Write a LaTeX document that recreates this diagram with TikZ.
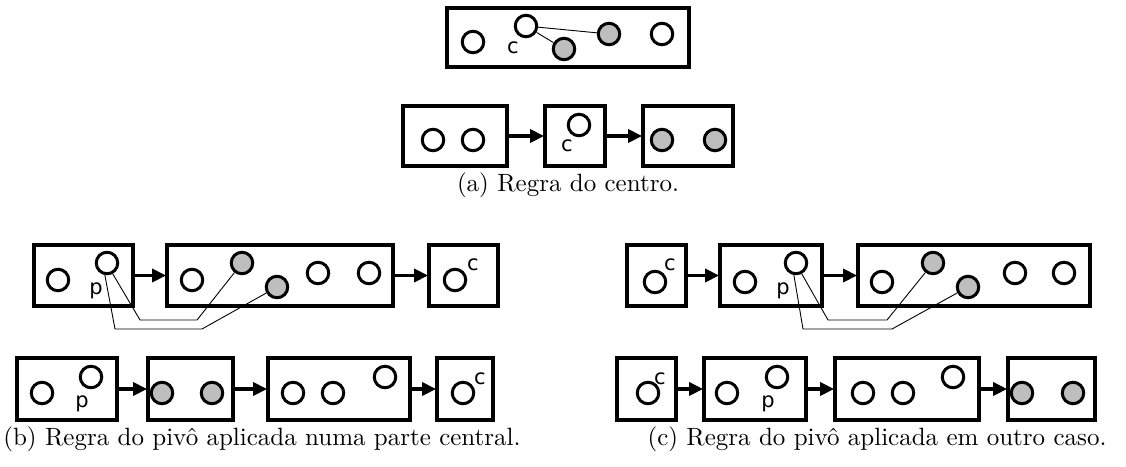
\documentclass[tikz,border=0pt]{standalone}
\usepackage{fontspec}
\newfontfamily\labfont{DejaVu Sans}
\usetikzlibrary{arrows.meta}
\definecolor{shade}{HTML}{BEBEBE}
\tikzset{
  box/.style={draw, rectangle, line width=3.8pt, inner sep=0pt},
  opn/.style={draw, circle, line width=3pt, minimum size=21.5pt, inner sep=0pt},
  gry/.style={opn, fill=shade},
  lnk/.style={line width=0.9pt},
  flow/.style={line width=3.5pt, -{Triangle[length=14pt,width=13pt]}, shorten >=-1pt},
  lab/.style={inner sep=0pt, font=\labfont\fontsize{21}{22}\selectfont},
  captext/.style={inner sep=0pt},
}
\begin{document}
\begin{tikzpicture}[x=1pt, y=-1pt]
\useasboundingbox (0,0) rectangle (1126,466);

% ---------- (a) centre rule ----------
\node[box, minimum width=242pt, minimum height=59pt] (A0) at (568,37.5) {};
\node[opn] (A0o1) at (473,42) {};
\node[opn] (A0c)  at (526,26) {};
\node[gry] (A0g1) at (564,49) {};
\node[gry] (A0g2) at (609,34) {};
\node[opn] (A0o2) at (662,34) {};
\node[lab] (A0l) at (513,48) {c};
\draw[lnk] (A0c) -- (A0g2);
\draw[lnk] (A0c) -- (A0g1);

\node[box, minimum width=104pt, minimum height=60pt] (A1) at (455,136) {};
\node[box, minimum width=60pt,  minimum height=60pt] (A2) at (575,136) {};
\node[box, minimum width=90pt,  minimum height=60pt] (A3) at (688,136) {};
\node[opn] (A1o1) at (433,140) {};
\node[opn] (A1o2) at (473,140) {};
\node[opn] (A2c)  at (579,125) {};
\node[lab] (A2l) at (567,146) {c};
\node[gry] (A3g1) at (662,140) {};
\node[gry] (A3g2) at (715,140) {};
\draw[flow] (A1) -- (A2);
\draw[flow] (A2) -- (A3);
\node[captext] (capA) at (568,185) {\scalebox{2.5}{(a) Regra do centro.}};

% ---------- (b) pivot rule, central part ----------
\node[box, minimum width=99pt,  minimum height=61pt] (B1) at (83.5,275.5) {};
\node[box, minimum width=226pt, minimum height=61pt] (B2) at (280,275.5) {};
\node[box, minimum width=69pt,  minimum height=61pt] (B3) at (463.5,275.5) {};
\node[opn] (B1o) at (58,280) {};
\node[opn] (B1p) at (107,263) {};
\node[lab] (B1l) at (96,291) {p};
\node[opn] (B2o1) at (192,280) {};
\node[gry] (B2g1) at (242,263) {};
\node[gry] (B2g2) at (277,287) {};
\node[opn] (B2o2) at (318,273) {};
\node[opn] (B2o3) at (369,273) {};
\node[opn] (B3c) at (455,280) {};
\node[lab] (B3l) at (473,265) {c};
\draw[flow] (B1) -- (B2);
\draw[flow] (B2) -- (B3);
\coordinate (Bk1) at (140,320);
\coordinate (Bk2) at (197,320);
\coordinate (Bk3) at (115,329);
\coordinate (Bk4) at (202,329);
\draw[lnk] (B1p.-62) -- (Bk1) -- (Bk2) -- (B2g1);
\draw[lnk] (B1p.-100) -- (Bk3) -- (Bk4) -- (B2g2);

\node[box, minimum width=100pt, minimum height=62pt] (D1) at (67,389) {};
\node[box, minimum width=85pt,  minimum height=62pt] (D2) at (190.5,389) {};
\node[box, minimum width=142pt, minimum height=62pt] (D3) at (339,389) {};
\node[box, minimum width=56pt,  minimum height=62pt] (D4) at (465,389) {};
\node[opn] (D1o) at (42,393) {};
\node[opn] (D1p) at (91,377) {};
\node[lab] (D1l) at (82,404) {p};
\node[gry] (D2g1) at (162,393) {};
\node[gry] (D2g2) at (212,393) {};
\node[opn] (D3o1) at (293,393) {};
\node[opn] (D3o2) at (333,393) {};
\node[opn] (D3o3) at (385,377) {};
\node[opn] (D4c) at (463,393) {};
\node[lab] (D4l) at (480,379) {c};
\draw[flow] (D1) -- (D2);
\draw[flow] (D2) -- (D3);
\draw[flow] (D3) -- (D4);
\node[captext] (capB) at (262,439) {\scalebox{2.5}{(b) Regra do pivô aplicada numa parte central.}};

% ---------- (c) pivot rule, other case ----------
\node[box, minimum width=59pt,  minimum height=61pt] (E1) at (656.5,275.5) {};
\node[box, minimum width=102pt, minimum height=61pt] (E2) at (771,275.5) {};
\node[box, minimum width=232pt, minimum height=61pt] (E3) at (974,275.5) {};
\node[opn] (E1c) at (655,282) {};
\node[lab] (E1l) at (670,265) {c};
\node[opn] (E2o) at (745,282) {};
\node[opn] (E2p) at (796,263) {};
\node[lab] (E2l) at (783,291) {p};
\node[opn] (E3o1) at (882,282) {};
\node[gry] (E3g1) at (933,263) {};
\node[gry] (E3g2) at (968,287) {};
\node[opn] (E3o2) at (1015,273) {};
\node[opn] (E3o3) at (1064,273) {};
\draw[flow] (E1) -- (E2);
\draw[flow] (E2) -- (E3);
\coordinate (Ek1) at (828,320);
\coordinate (Ek2) at (887,320);
\coordinate (Ek3) at (803,329);
\coordinate (Ek4) at (892,329);
\draw[lnk] (E2p.-62) -- (Ek1) -- (Ek2) -- (E3g1);
\draw[lnk] (E2p.-100) -- (Ek3) -- (Ek4) -- (E3g2);

\node[box, minimum width=59pt,  minimum height=62pt] (F1) at (646.5,389) {};
\node[box, minimum width=102pt, minimum height=62pt] (F2) at (755,389) {};
\node[box, minimum width=144pt, minimum height=62pt] (F3) at (907,389) {};
\node[box, minimum width=87pt,  minimum height=62pt] (F4) at (1051.5,389) {};
\node[opn] (F1c) at (648,393) {};
\node[lab] (F1l) at (660,379) {c};
\node[opn] (F2o) at (727,393) {};
\node[opn] (F2p) at (777,377) {};
\node[lab] (F2l) at (768,404) {p};
\node[opn] (F3o1) at (863,393) {};
\node[opn] (F3o2) at (903,393) {};
\node[opn] (F3o3) at (953,377) {};
\node[gry] (F4g1) at (1022,393) {};
\node[gry] (F4g2) at (1073,393) {};
\draw[flow] (F1) -- (F2);
\draw[flow] (F2) -- (F3);
\draw[flow] (F3) -- (F4);
\node[captext] (capC) at (877,439) {\scalebox{2.5}{(c) Regra do pivô aplicada em outro caso.}};
\end{tikzpicture}
\end{document}
